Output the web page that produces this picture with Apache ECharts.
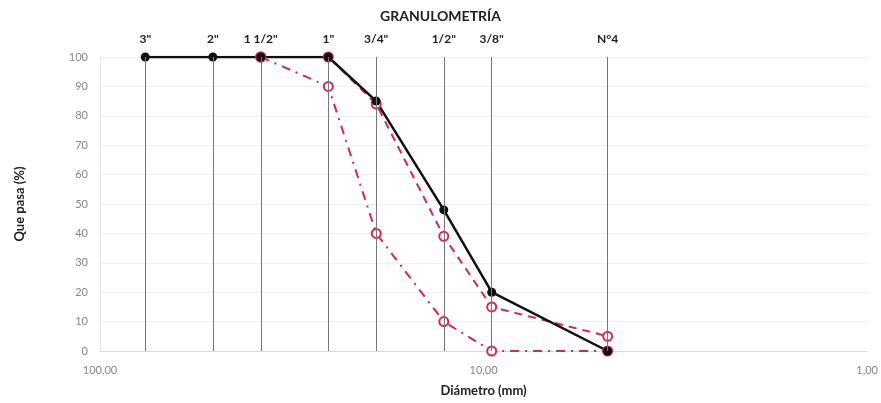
<!DOCTYPE html>
<html>
<head>
<meta charset="utf-8">
<script src="https://cdn.jsdelivr.net/npm/echarts@6/dist/echarts.min.js"></script>
<style>
  html, body { margin: 0; padding: 0; background: #fff; }
  #chart { width: 881px; height: 403px; }
</style>
</head>
<body>
<div id="chart"></div>
<script>
// tamices (pulgadas / N°) y abertura en mm
const sieveLabels = ['3"', '2"', '1 1/2"', '1"', '3/4"', '1/2"', '3/8"', 'N°4']
const sieveSizes  = [76.2, 50.8, 38.1, 25.4, 19.05, 12.7, 9.525, 4.75]

// % que pasa
const passing    = [100, 100, 100, 100, 85, 48, 20, 0]
const upperLimit = [null, null, 100, 100, 84, 39, 15, 5]
const lowerLimit = [null, null, 100, 90, 40, 10, 0, 0]

const yTicks = [0, 10, 20, 30, 40, 50, 60, 70, 80, 90, 100]

const red = '#dc2453'
const font = 'Lato, "Open Sans", sans-serif'

const pairs = arr => sieveSizes.map((s, i) => [s, arr[i]]).filter(p => p[1] !== null)

const chart = echarts.init(document.getElementById('chart'))
chart.setOption({
  animation: false,
  title: {
    text: 'GRANULOMETRÍA',
    left: 'center', top: 4,
    textStyle: { fontFamily: font, fontSize: 14, fontWeight: 'bold', color: '#222' },
  },
  grid: { left: 100, right: 13, top: 57, bottom: 52 },
  xAxis: {
    type: 'log', logBase: 10, min: 1, max: 100, inverse: true,
    name: 'Diámetro (mm)', nameLocation: 'middle', nameGap: 33,
    nameTextStyle: { fontFamily: font, fontSize: 13, fontWeight: 'bold', color: '#222' },
    axisLine: { lineStyle: { color: '#d9d9d9' } },
    axisTick: { show: false },
    splitLine: { show: false },
    axisLabel: {
      margin: 14, fontFamily: font, fontSize: 11, color: '#888',
      formatter: v => v.toFixed(2).replace('.', ','),
    },
  },
  yAxis: {
    type: 'value', min: yTicks[0], max: yTicks[yTicks.length - 1], interval: 10,
    name: 'Que pasa (%)', nameLocation: 'middle', nameGap: 74, nameRotate: 90,
    nameTextStyle: { fontFamily: font, fontSize: 13, fontWeight: 'bold', color: '#222' },
    axisLine: { show: true, lineStyle: { color: '#e6e6e6' } },
    axisTick: { show: false },
    splitLine: { lineStyle: { color: '#f0f0f0' } },
    axisLabel: { margin: 12, fontFamily: font, fontSize: 11, color: '#888' },
  },
  series: [
    {
      name: 'tamices', type: 'line', data: [], silent: true,
      markLine: {
        symbol: 'none', silent: true, animation: false,
        lineStyle: { color: '#777', width: 1, type: 'solid' },
        label: {
          position: 'end', distance: 12,
          fontFamily: font, fontSize: 12, fontWeight: 'bold', color: '#222',
        },
        data: sieveSizes.map((s, i) => ({ xAxis: s, label: { formatter: sieveLabels[i] } })),
      },
    },
    {
      name: 'Límite superior', type: 'line', data: pairs(upperLimit),
      symbol: 'emptyCircle', symbolSize: 9,
      lineStyle: { color: red, width: 2, type: [8, 6] },
      itemStyle: { color: red, borderWidth: 1.2 },
    },
    {
      name: 'Límite inferior', type: 'line', data: pairs(lowerLimit),
      symbol: 'emptyCircle', symbolSize: 9,
      lineStyle: { color: red, width: 2, type: [9, 6, 2, 6] },
      itemStyle: { color: red, borderWidth: 1.2 },
    },
    {
      name: 'Muestra', type: 'line', data: pairs(passing),
      symbol: 'circle', symbolSize: 9,
      lineStyle: { color: '#111', width: 2.5 },
      itemStyle: { color: '#111' },
    },
  ],
})
</script>
</body>
</html>
